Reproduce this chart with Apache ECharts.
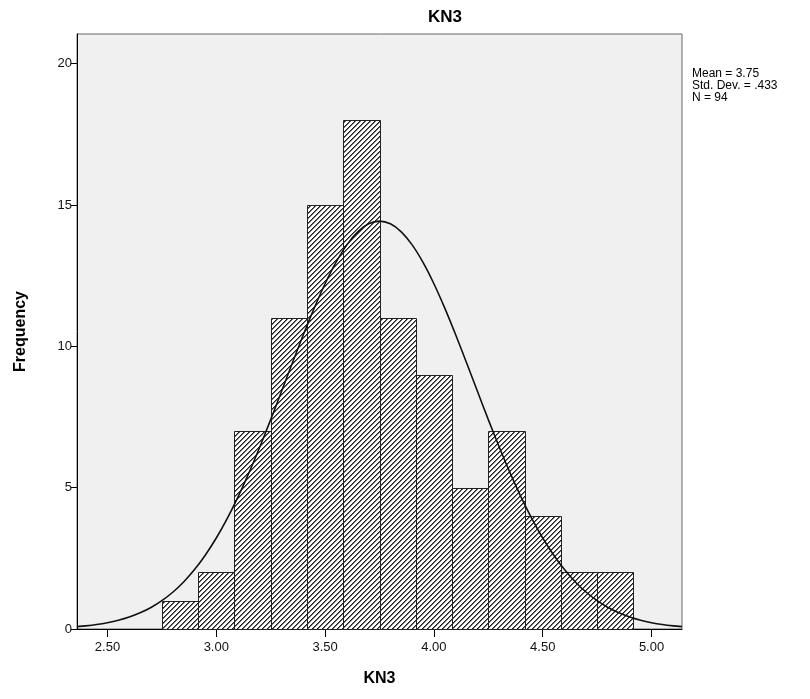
<!DOCTYPE html>
<html>
<head>
<meta charset="utf-8">
<script src="https://cdn.jsdelivr.net/npm/echarts@6/dist/echarts.min.js"></script>
<style>
html,body{margin:0;padding:0;background:#fff;}
#chart{width:810px;height:699px;}
</style>
</head>
<body>
<div id="chart"></div>
<script>
// ---- data ----
var chartTitle = 'KN3';
var xAxisTitle = 'KN3';
var yAxisTitle = 'Frequency';
var binEdges = [2.75, 2.9167, 3.0833, 3.25, 3.4167, 3.5833, 3.75, 3.9167, 4.0833, 4.25, 4.4167, 4.5833, 4.75, 4.9167];
var counts = [1, 2, 7, 11, 15, 18, 11, 9, 5, 7, 4, 2, 2];
var curveX = [2.36, 2.40, 2.45, 2.50, 2.55, 2.60, 2.65, 2.70, 2.75, 2.80, 2.85, 2.90, 2.95, 3.00, 3.05, 3.10, 3.15,
              3.20, 3.25, 3.30, 3.35, 3.40, 3.45, 3.50, 3.55, 3.60, 3.65, 3.70, 3.75, 3.80, 3.85, 3.90, 3.95,
              4.00, 4.05, 4.10, 4.15, 4.20, 4.25, 4.30, 4.35, 4.40, 4.45, 4.50, 4.55, 4.60, 4.65, 4.70, 4.75,
              4.80, 4.85, 4.90, 4.95, 5.00, 5.05, 5.10, 5.14];
var curveY = [0.084, 0.112, 0.159, 0.224, 0.310, 0.424, 0.573, 0.763, 1.003, 1.300, 1.664, 2.101, 2.619, 3.219, 3.906, 4.677, 5.525,
              6.440, 7.408, 8.409, 9.418, 10.408, 11.351, 12.215, 12.970, 13.590, 14.050, 14.334, 14.43, 14.334, 14.050, 13.590, 12.970,
              12.215, 11.351, 10.408, 9.418, 8.409, 7.408, 6.440, 5.525, 4.677, 3.906, 3.219, 2.619, 2.101, 1.664, 1.300, 1.003,
              0.763, 0.573, 0.424, 0.310, 0.224, 0.159, 0.112, 0.084];
var xTicks = [2.5, 3.0, 3.5, 4.0, 4.5, 5.0];
var yTicks = [0, 5, 10, 15, 20];
var statsLines = ['Mean = 3.75', 'Std. Dev. = .433', 'N = 94'];

// ---- hatch pattern ----
function makeHatch() {
  var n = 5;
  var c = document.createElement('canvas');
  c.width = n; c.height = n;
  var ctx = c.getContext('2d');
  var img = ctx.createImageData(n, n);
  for (var y = 0; y < n; y++) {
    for (var x = 0; x < n; x++) {
      var k = (x + y) % n;
      var v = 255;
      if (k === 0) v = 30;
      else if (k === 1) v = 110;
      var i = (y * n + x) * 4;
      img.data[i] = v; img.data[i + 1] = v; img.data[i + 2] = v; img.data[i + 3] = 255;
    }
  }
  ctx.putImageData(img, 0, 0);
  return { image: c, repeat: 'repeat' };
}
var hatch = makeHatch();

var histData = counts.map(function (c, i) { return [binEdges[i], binEdges[i + 1], c]; });
var curveData = curveX.map(function (x, i) { return [x, curveY[i]]; });

var font = 'Liberation Sans, Arial, sans-serif';
var chart = echarts.init(document.getElementById('chart'));
chart.setOption({
  animation: false,
  backgroundColor: '#fff',
  title: {
    text: chartTitle, left: 440, top: 4, textAlign: 'center',
    textStyle: { fontFamily: font, fontSize: 17, fontWeight: 'bold', color: '#000' }
  },
  grid: {
    left: 77, top: 34, width: 605, height: 595,
    show: true, backgroundColor: '#f0f0f0', borderColor: '#666', borderWidth: 1
  },
  xAxis: {
    type: 'value', min: 2.36, max: 5.14,
    name: xAxisTitle, nameLocation: 'middle', nameGap: 42,
    nameTextStyle: { fontFamily: font, fontSize: 16, fontWeight: 'bold', color: '#000' },
    axisLine: { show: true, lineStyle: { color: '#000', width: 1 } },
    axisTick: { show: true, length: 8, customValues: xTicks, lineStyle: { color: '#000' } },
    axisLabel: { customValues: xTicks, fontFamily: font, fontSize: 13, color: '#111', margin: 12,
      formatter: function (v) { return v.toFixed(2); } },
    splitLine: { show: false }
  },
  yAxis: {
    type: 'value', min: 0, max: 21.05,
    name: yAxisTitle, nameLocation: 'middle', nameGap: 48,
    nameTextStyle: { fontFamily: font, fontSize: 16, fontWeight: 'bold', color: '#000' },
    axisLine: { show: true, lineStyle: { color: '#000', width: 1 } },
    axisTick: { show: true, length: 6, customValues: yTicks, lineStyle: { color: '#000' } },
    axisLabel: { customValues: yTicks, fontFamily: font, fontSize: 13, color: '#111', margin: 5 },
    splitLine: { show: false }
  },
  graphic: statsLines.map(function (t, i) {
    return { type: 'text', left: 692, top: 68 + i * 12,
      style: { text: t, fill: '#000', font: '12px ' + font } };
  }),
  series: [
    {
      type: 'custom',
      data: histData,
      encode: { x: [0, 1], y: 2 },
      renderItem: function (params, api) {
        var p1 = api.coord([api.value(0), api.value(2)]);
        var p2 = api.coord([api.value(1), 0]);
        return {
          type: 'rect',
          shape: { x: Math.round(p1[0]) + 0.5, y: Math.round(p1[1]) + 0.5,
                   width: Math.round(p2[0]) - Math.round(p1[0]), height: Math.round(p2[1]) - Math.round(p1[1]) },
          style: { fill: hatch, stroke: '#222', lineWidth: 1 }
        };
      },
      z: 2
    },
    {
      type: 'line',
      data: curveData,
      smooth: 0.3,
      showSymbol: false,
      symbol: 'none',
      lineStyle: { color: '#111', width: 1.6 },
      z: 3
    }
  ]
});
</script>
</body>
</html>
